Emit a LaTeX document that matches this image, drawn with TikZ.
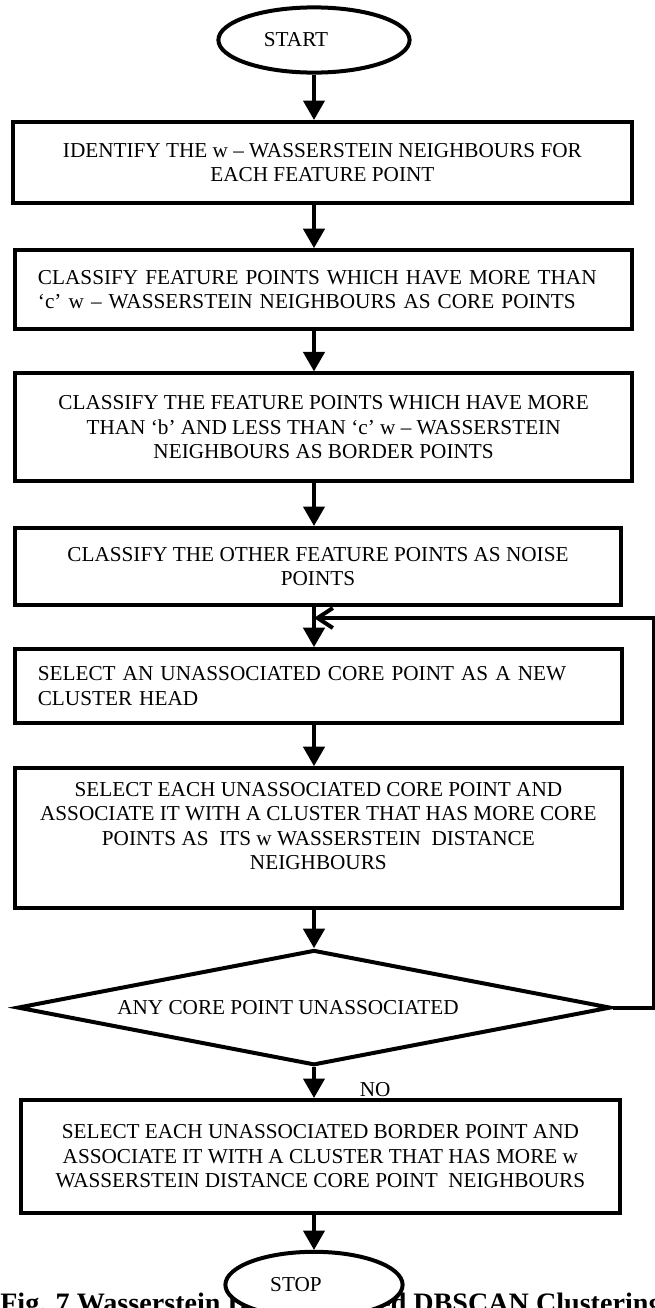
\documentclass[tikz,border=0pt]{standalone}
\usepackage{fontspec}
\setmainfont{Liberation Serif}
\usepackage{tikz}
\usetikzlibrary{shapes.geometric, arrows, arrows.meta, positioning}
\newcommand{\boxfont}{\fontsize{15.1pt}{17.4pt}\selectfont}
\tikzset{
    startstop/.style={ellipse, minimum width=4.78cm, minimum height=1.63cm, align=center, draw=black, fill=white, line width=0.1cm, font=\boxfont},
    process/.style={rectangle, minimum width=15.18cm, align=center, draw=black, line width=0.1cm, font=\boxfont},
    leftprocess/.style={process, align=left, inner xsep=0.575cm},
    decision/.style={diamond, aspect=5.2, minimum width=14.83cm, minimum height=2.88cm, align=center, draw=black, line width=0.1cm, font=\boxfont},
    arrow/.style={line width=0.1cm,->,>=triangle 60},
    backarrow/.style={line width=0.1cm,-{Straight Barb[length=0.38cm, width=0.5cm]}}
}
\begin{document}
\begin{tikzpicture}
    \useasboundingbox (0, 0) rectangle (16.375, -32.7);

    \node (start) [startstop] at (7.85, -1.0) {START\hspace*{0.9cm}};

    \node (identify) [process, minimum width=15.48cm, minimum height=2.03cm] at (8.06, -4.06) {IDENTIFY THE w – WASSERSTEIN NEIGHBOURS FOR\\EACH FEATURE POINT};
    \node (core) [leftprocess, text width=14.28cm, minimum height=1.98cm] at (8.09, -7.24) {CLASSIFY FEATURE POINTS WHICH HAVE MORE THAN\\‘c’ w – WASSERSTEIN NEIGHBOURS AS CORE POINTS};
    \node (border) [process, minimum width=15.43cm, minimum height=2.7cm] at (8.09, -10.68) {CLASSIFY THE FEATURE POINTS WHICH HAVE MORE\\THAN ‘b’ AND LESS THAN ‘c’ w – WASSERSTEIN\\NEIGHBOURS AS BORDER POINTS};
    \node (noise) [process, minimum width=15.15cm, minimum height=1.93cm] at (7.95, -14.16) {CLASSIFY THE OTHER FEATURE POINTS AS NOISE\\POINTS};

    \node (head) [leftprocess, text width=14.03cm, minimum height=1.85cm] at (7.96, -17.15) {SELECT AN UNASSOCIATED CORE POINT AS A NEW\\CLUSTER HEAD};
    \node (assoc) [process, minimum height=3.5cm] at (7.96, -20.95) {SELECT EACH UNASSOCIATED CORE POINT AND\\ASSOCIATE IT WITH A CLUSTER THAT HAS MORE CORE\\POINTS AS~ ITS w WASSERSTEIN~ DISTANCE\\NEIGHBOURS\\\mbox{}};

    \node (check) [decision] at (7.85, -25.19) {ANY CORE POINT UNASSOCIATED\hspace*{1.3cm}};
    \node (no) [font=\boxfont] at (9.38, -27.25) {NO};

    \node (final) [process, minimum width=14.98cm, minimum height=2.83cm] at (8.01, -28.91) {SELECT EACH UNASSOCIATED BORDER POINT AND\\ASSOCIATE IT WITH A CLUSTER THAT HAS MORE w\\WASSERSTEIN DISTANCE CORE POINT~ NEIGHBOURS};

    \node (caption) [anchor=base west, inner sep=0pt, font=\fontsize{20pt}{24pt}\selectfont\bfseries] at (0, -32.82) {Fig. 7 Wasserstein Distance based DBSCAN Clustering};
    \node (stop) [startstop, minimum width=4.43cm, minimum height=1.65cm] at (7.85, -32.12) {STOP\hspace*{0.9cm}};

    \coordinate (merge) at (7.85, -15.45);

    \draw [arrow] (start) -- (identify.north -| start);
    \draw [arrow] (identify.south -| start) -- (core.north -| start);
    \draw [arrow] (core.south -| start) -- (border.north -| start);
    \draw [arrow] (border.south -| start) -- (noise.north -| start);
    \draw [arrow] (noise.south -| start) -- (head.north -| start);
    \draw [arrow] (head.south -| start) -- (assoc.north -| start);
    \draw [arrow] (assoc.south -| start) -- (check);
    \draw [backarrow] (check.east) -- ++(1.03, 0) |- (merge);
    \draw [arrow] (check) -- (final.north -| start);
    \draw [arrow] (final.south -| start) -- (stop);
\end{tikzpicture}
\end{document}
